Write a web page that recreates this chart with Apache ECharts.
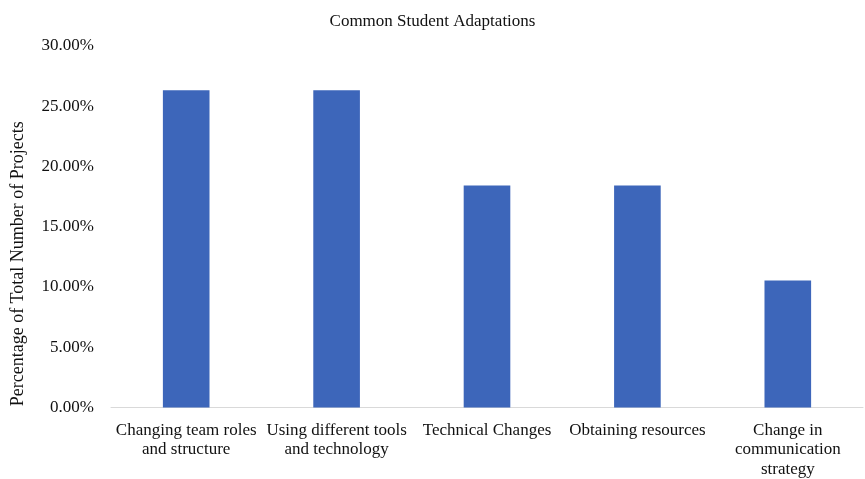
<!DOCTYPE html>
<html><head><meta charset="utf-8">
<script src="https://cdn.jsdelivr.net/npm/echarts@6/dist/echarts.min.js"></script>
<style>html,body{margin:0;padding:0;background:#fff}#c{width:865px;height:479px}</style>
</head><body><div id="c"></div>
<script>
const categories = ["Changing team roles\nand structure", "Using different tools\nand technology", "Technical Changes", "Obtaining resources", "Change in\ncommunication\nstrategy"];
const values = [26.32, 26.32, 18.42, 18.42, 10.53];
const yTicks = [0, 5, 10, 15, 20, 25, 30];
const chart = echarts.init(document.getElementById('c'));
const F = '"Liberation Serif", "Times New Roman", serif';
chart.setOption({
  animation: false,
  title: { text: 'Common Student Adaptations', left: 'center', top: 8,
    textStyle: { fontFamily: F, fontSize: 17, fontWeight: 'normal', color: '#111' } },
  grid: { left: 111, right: 2, top: 46, bottom: 69 },
  xAxis: { type: 'category', data: categories,
    axisLine: { lineStyle: { color: '#d9d9d9', width: 1 } },
    axisTick: { show: false },
    axisLabel: { interval: 0, fontFamily: F, fontSize: 17, color: '#111', lineHeight: 19.5, margin: 13 } },
  yAxis: { type: 'value', min: yTicks[0], max: yTicks[yTicks.length-1], interval: 5,
    name: 'Percentage of Total Number of Projects', nameLocation: 'middle', nameGap: 84,
    nameTextStyle: { fontFamily: F, fontSize: 18, color: '#111', padding: [0, 74, 0, 0] },
    splitLine: { show: false }, axisLine: { show: false }, axisTick: { show: false },
    axisLabel: { fontFamily: F, fontSize: 17, color: '#111', margin: 17, formatter: v => v.toFixed(2) + '%' } },
  series: [{ type: 'bar', data: values, barWidth: '31%', itemStyle: { color: '#3d66ba' } }]
});
</script></body></html>
